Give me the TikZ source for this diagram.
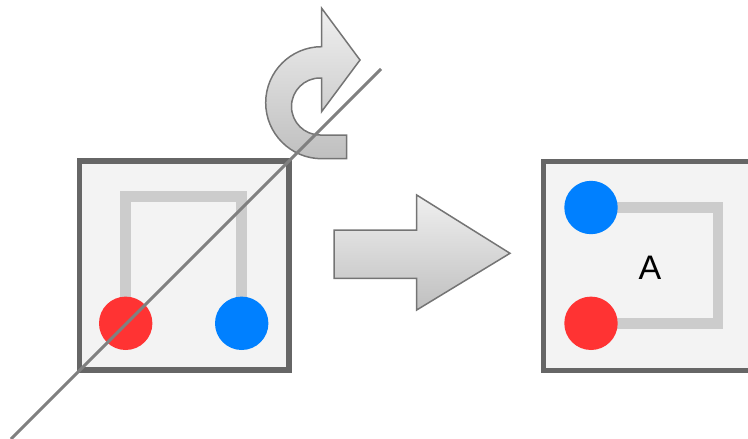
\documentclass[tikz,border=0pt]{standalone}
\usepackage{fontspec}
\setmainfont{Liberation Sans}
\definecolor{boxfill}{HTML}{F3F3F3}
\definecolor{boxline}{HTML}{666666}
\definecolor{wirec}{HTML}{CCCCCC}
\definecolor{dotred}{HTML}{FF3333}
\definecolor{dotblue}{HTML}{0080FF}
\definecolor{axisc}{HTML}{808080}
\definecolor{arrline}{HTML}{747474}
\tikzset{
  panel/.style={draw=boxline, fill=boxfill, line width=5.5pt, inner sep=0pt, outer sep=0pt,
                minimum width=209.5pt, minimum height=209pt},
  dot/.style={circle, inner sep=0pt, outer sep=0pt, minimum size=53.4pt},
  wire/.style={draw=wirec, line width=10.5pt, line join=miter},
  axis/.style={draw=axisc, line width=3pt},
  bigarrow/.style={draw=arrline, line width=1.5pt, top color=gray!12, bottom color=gray!50, line join=miter},
}
\begin{document}
\begin{tikzpicture}[x=1pt,y=-1pt]
\useasboundingbox (0,0) rectangle (748,439);
% left panel
\node[panel] (L) at (184.25,265.5) {};
\coordinate (rc1) at (125.7,323.3);
\coordinate (bc1) at (241.7,323.3);
\draw[wire] (rc1) -- (125.7,196.5) -- (241.7,196.5) -- (bc1);
\node[dot, fill=dotred] (r1) at (rc1) {};
\node[dot, fill=dotblue] (b1) at (bc1) {};
% right panel
\node[panel] (R) at (648,265.8) {};
\coordinate (bc2) at (591,207.5);
\coordinate (rc2) at (591,323.3);
\draw[wire] (bc2) -- (718,207.5) -- (718,323.3) -- (rc2);
\node[dot, fill=dotblue] (b2) at (bc2) {};
\node[dot, fill=dotred] (r2) at (rc2) {};
\node[font=\fontsize{34}{34}\selectfont, inner sep=0pt] (A) at (650,268) {A};
% big arrow
\path[bigarrow] (334,230) -- (416.7,230) -- (416.7,195) -- (510,253.3) -- (416.7,310) -- (416.7,278.3) -- (334,278.3) -- cycle;
% curved arrow
\path[bigarrow] (321.7,46.7) arc[start angle=-90, end angle=-270, radius=56] -- (346.7,158.7) -- (346.7,135) -- (320,135)
  arc[start angle=90, end angle=270, radius=28.5] -- (321.7,78) -- (321.7,111.5) -- (360,60) -- (321.7,8.3) -- cycle;
% rotation axis
\coordinate (d1) at (11,439);
\coordinate (d2) at (381,69);
\draw[axis] (d1) -- (d2);
\end{tikzpicture}
\end{document}
